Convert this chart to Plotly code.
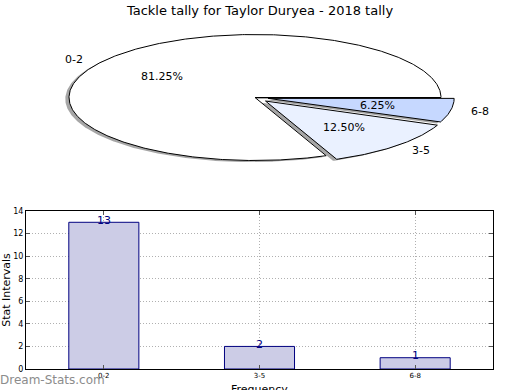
import numpy as np
import plotly.graph_objects as go

# ---- data ----
categories = ["0-2", "3-5", "6-8"]
counts = [13, 2, 1]
pie_colors = ["#ffffff", "#eaf1ff", "#c6d8ff"]
explode = [0.0, 0.08, 0.072]
title_text = "Tackle tally for Taylor Duryea - 2018 tally"
y_ticks = [0, 2, 4, 6, 8, 10, 12, 14]

FONT = "DejaVu Sans"
W, H = 520, 390

# pie geometry (pixel-based axis ranges so the unit circle becomes the ellipse)
CX, CY, RX, RY = 255, 97.5, 186, 63
pie_top_px = 195

fig = go.Figure()

total = sum(counts)
fracs = [c / total for c in counts]
starts = np.cumsum([0] + fracs[:-1]) * 360.0

def wedge(th1, th2, ox, oy):
    t = np.radians(np.linspace(th1, th2, max(int(abs(th2 - th1)) * 2, 8)))
    xs = np.concatenate([[ox], ox + np.cos(t), [ox]])
    ys = np.concatenate([[oy], oy + np.sin(t), [oy]])
    return xs, ys

shadows = []
wedges = []
annots = []
for cat, f, s, col, e in zip(categories, fracs, starts, pie_colors, explode):
    th1, th2 = s, s + f * 360
    thm = np.radians((th1 + th2) / 2)
    ox, oy = e * np.cos(thm), e * np.sin(thm)
    xs, ys = wedge(th1, th2, ox, oy)
    shadows.append(go.Scatter(x=xs - 0.02, y=ys - 0.025, mode="lines", fill="toself",
                              fillcolor="rgba(77,77,77,0.5)", line=dict(width=0),
                              xaxis="x2", yaxis="y2", hoverinfo="skip", showlegend=False))
    wedges.append(go.Scatter(x=xs, y=ys, mode="lines", fill="toself", fillcolor=col,
                             line=dict(color="black", width=1), xaxis="x2", yaxis="y2",
                             name=cat, showlegend=False, hoverinfo="name"))
    lx = ox + 1.1 * np.cos(thm)
    ly = oy + 1.1 * np.sin(thm)
    annots.append(dict(x=lx, y=ly, xref="x2", yref="y2", text=cat, showarrow=False,
                       xanchor="left" if lx > 0 else "right", yanchor="middle",
                       font=dict(family=FONT, size=11, color="black")))
    px_ = ox + 0.6 * np.cos(thm)
    py_ = oy + 0.6 * np.sin(thm)
    annots.append(dict(x=px_, y=py_, xref="x2", yref="y2", text=f"{f*100:.2f}%",
                       showarrow=False, xanchor="center", yanchor="middle",
                       font=dict(family=FONT, size=11, color="black")))

for t in shadows + wedges:
    fig.add_trace(t)

# bar chart
fig.add_trace(go.Bar(x=categories, y=counts, width=0.45,
                     marker=dict(color="#ccccE6", line=dict(color="#000080", width=1)),
                     showlegend=False, hoverinfo="x+y"))
for c, v in zip(categories, counts):
    annots.append(dict(x=c, y=v, xref="x", yref="y", text=str(v), showarrow=False,
                       yanchor="middle", yshift=2,
                       font=dict(family=FONT, size=11, color="#000080")))

annots.append(dict(x=0, y=(H - 380) / H, xref="paper", yref="paper", text="Dream-Stats.com",
                   showarrow=False, xanchor="left", yanchor="middle", xshift=-2,
                   font=dict(family=FONT, size=12, color="#8c8c8c")))
# x-axis title (placed explicitly, partly below the page edge as in the original)
annots.append(dict(x=(26 + 493) / 2 / W, y=(H - 381) / H, xref="paper", yref="paper",
                   text="Frequency", showarrow=False, xanchor="center", yanchor="top",
                   font=dict(family=FONT, size=11, color="black")))

grid_dash = "1px,2px"
fig.update_layout(
    width=W, height=H, autosize=False,
    margin=dict(l=0, r=0, t=0, b=0),
    paper_bgcolor="white", plot_bgcolor="white",
    title=dict(text=title_text, x=0.5, xanchor="center", y=1 - 10 / H, yanchor="middle",
               font=dict(family=FONT, size=13, color="black")),
    font=dict(family=FONT, color="black"),
    xaxis=dict(domain=[26 / W, 493 / W], range=[-0.5, 2.5], type="category",
               showline=True, linecolor="black", linewidth=1, mirror="ticks",
               ticks="inside", ticklen=4, tickcolor="#555",
               showgrid=True, gridcolor="#b0b0b0", griddash=grid_dash, gridwidth=1,
               tickfont=dict(size=7, family=FONT), automargin=False,
               fixedrange=True, zeroline=False),
    yaxis=dict(domain=[(H - 369) / H, (H - 211) / H], range=[0, 14], tickvals=y_ticks,
               showline=True, linecolor="black", linewidth=1, mirror="ticks",
               ticks="inside", ticklen=4, tickcolor="#555",
               showgrid=True, gridcolor="#b0b0b0", griddash=grid_dash, gridwidth=1,
               tickfont=dict(size=8, family=FONT), automargin=False,
               title=dict(text="Stat Intervals", standoff=3, font=dict(size=11, family=FONT)),
               fixedrange=True, zeroline=False),
    xaxis2=dict(domain=[0, 1], range=[-CX / RX, (W - CX) / RX], visible=False, fixedrange=True),
    yaxis2=dict(domain=[1 - pie_top_px / H, 1],
                range=[(CY - pie_top_px) / RY, CY / RY], visible=False, fixedrange=True),
    annotations=annots,
)

fig.write_html("out.html", config={"displayModeBar": False},
               post_script="document.body.style.margin='0';document.body.style.overflow='hidden';")
